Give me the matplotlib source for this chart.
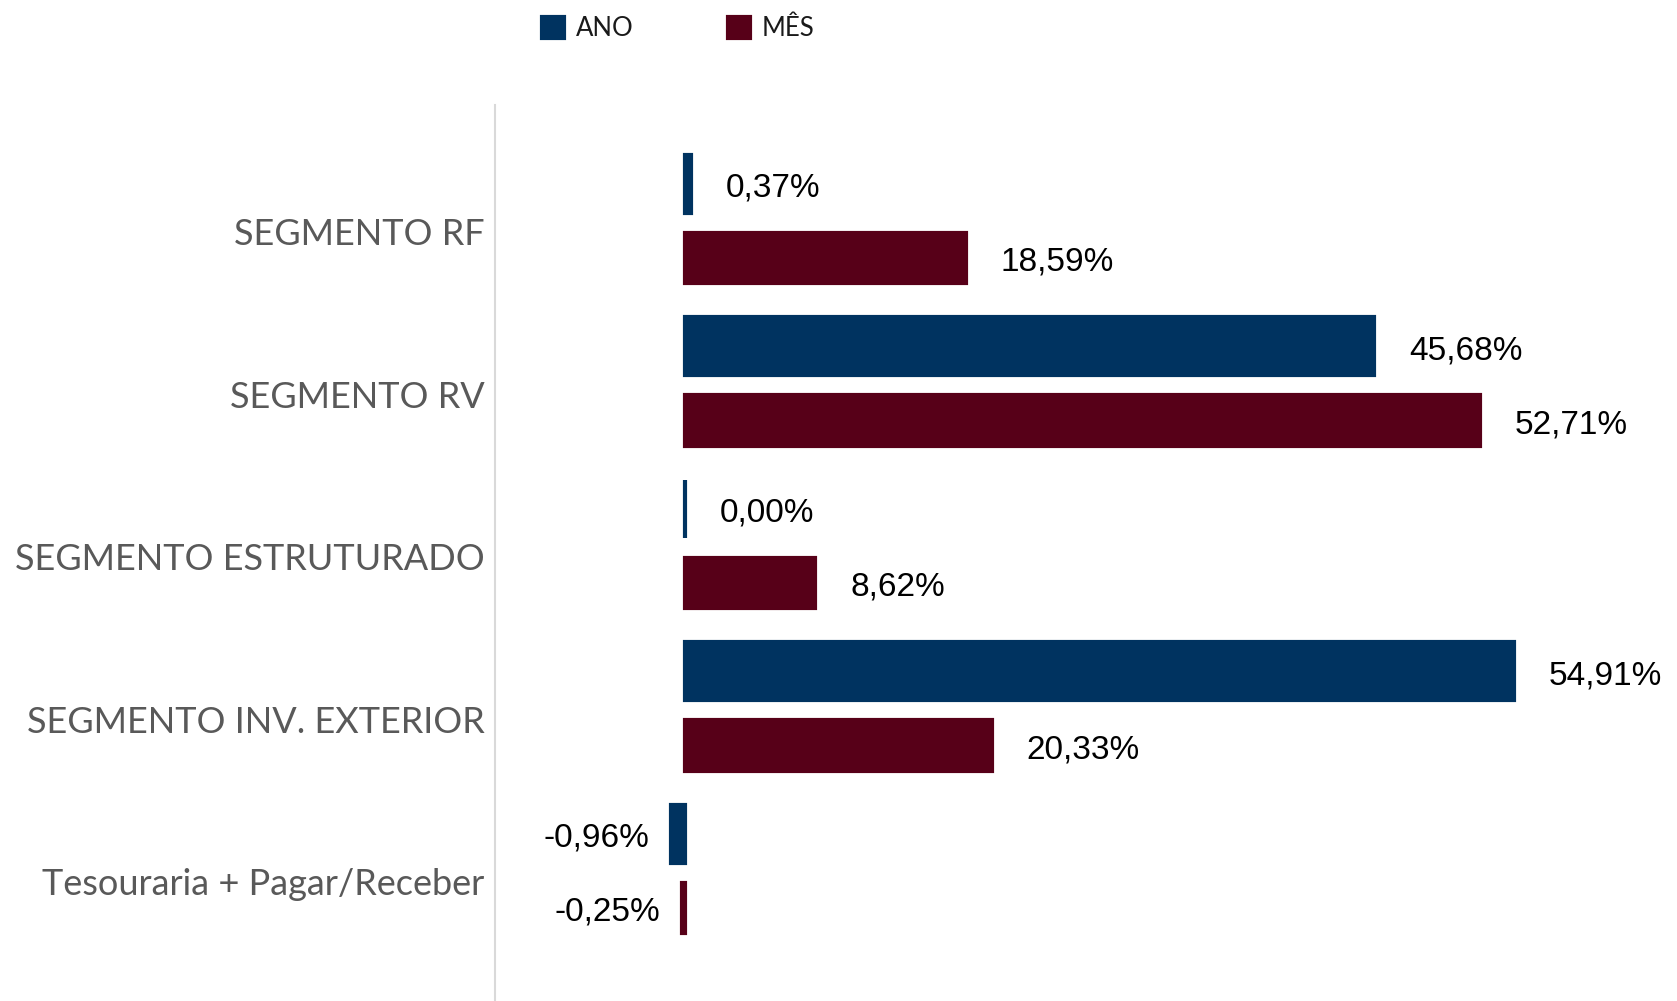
import matplotlib
matplotlib.use("Agg")
import matplotlib.pyplot as plt
import numpy as np

categories = ["SEGMENTO RF", "SEGMENTO RV", "SEGMENTO ESTRUTURADO",
              "SEGMENTO INV. EXTERIOR", "Tesouraria + Pagar/Receber"]
series_names = ["ANO", "MÊS"]
ano_values = [0.37, 45.68, 0.00, 54.91, -0.96]
mes_values = [18.59, 52.71, 8.62, 20.33, -0.25]

ano_color = "#003360"
mes_color = "#570018"

W, H = 1677, 1001
fig = plt.figure(figsize=(W / 100, H / 100), dpi=100)
ax = fig.add_axes([495 / W, 0, (W - 495) / W, (H - 105) / H])
ax.set_xlim(-12.63, 65.75)
ax.set_ylim(4.8, -0.714)

y = np.arange(len(categories))
off = 0.228
b1 = ax.barh(y - off, ano_values, height=0.357, color=ano_color,
             edgecolor=ano_color, linewidth=3, label=series_names[0])
b2 = ax.barh(y + off, mes_values, height=0.311, color=mes_color,
             edgecolor=mes_color, linewidth=3, label=series_names[1])

for spine in ["top", "right", "bottom"]:
    ax.spines[spine].set_visible(False)
ax.spines["left"].set_color("#d9d9d9")
ax.spines["left"].set_linewidth(1.5)
ax.set_xticks([])
ax.set_yticks([])

def fmt(v):
    return f"{v:.2f}".replace(".", ",") + "%"

for vals, dy in ((ano_values, -off), (mes_values, off)):
    for i, v in enumerate(vals):
        if v >= 0:
            ax.text(v + 2.3, i + dy + 0.027, fmt(v), ha="left", va="center",
                    fontsize=24, family="Liberation Sans", color="black")
        else:
            ax.text(v - 1.45, i + dy + 0.027, fmt(v), ha="right", va="center",
                    fontsize=24, family="Liberation Sans", color="black")

tr = ax.get_yaxis_transform()
for i, c in enumerate(categories):
    ax.text(-0.009, i + 0.085, c, transform=tr, ha="right", va="center",
            fontsize=26, family="Lato", color="#595959")

fig.legend(handles=[b1, b2], labels=series_names, loc="center left",
           bbox_to_anchor=(519 / W, 1 - 29 / H), ncol=2, frameon=False,
           prop={"family": "Lato", "size": 18.5}, handlelength=0.85,
           handleheight=0.85, handletextpad=0.45, columnspacing=3.7,
           labelcolor="#1a1a1a")

fig.savefig("out.png", dpi=100)
